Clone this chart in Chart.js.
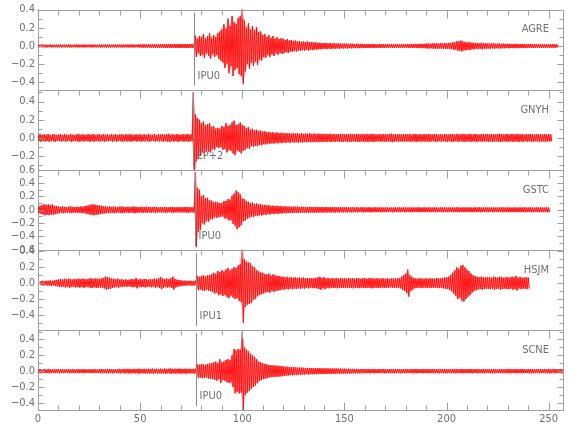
<!DOCTYPE html>
<html>
<head>
<meta charset="utf-8">
<script src="https://cdn.jsdelivr.net/npm/chart.js@4.4.0/dist/chart.umd.min.js"></script>
<style>
html,body{margin:0;padding:0;background:#fff;}
</style>
</head>
<body>
<canvas id="chart" width="580" height="440"></canvas>
<script>
// stations, top to bottom
const stations = ['AGRE','GNYH','GSTC','HSJM','SCNE'];
const picks = ['IPU0','EP+2','IPU0','IPU1','IPU0'];
const pickTimes = [76.2,75.8,76.9,77.5,77.5];
const yMin = [-0.48,-0.35,-0.6,-0.59,-0.49];
const yMax = [0.4,0.53,0.6,0.42,0.52];
const xLabels = [0,50,100,150,200,250];

// trace envelopes, half peak-to-peak, one value per second from t=0
const agre = [
.015,.013,.016,.014,.015,.012,.016,.014,.013,.015,
.014,.016,.013,.015,.014,.016,.015,.013,.014,.016,
.015,.014,.016,.015,.013,.015,.016,.014,.015,.013,
.016,.015,.014,.017,.015,.016,.014,.015,.016,.014,
.015,.016,.015,.014,.016,.015,.017,.015,.014,.016,
.016,.018,.017,.016,.018,.017,.019,.018,.017,.018,
.02,.019,.021,.02,.022,.02,.019,.021,.02,.022,
.021,.02,.022,.021,.02,.021,.02,.12,.08,.11,
.1,.13,.08,.11,.14,.09,.12,.1,.14,.16,
.18,.24,.19,.3,.22,.33,.26,.24,.31,.33,
.42,.28,.2,.25,.18,.22,.17,.21,.15,.16,
.12,.13,.1,.12,.09,.11,.08,.095,.075,.085,
.08,.065,.075,.06,.065,.055,.06,.05,.055,.045,
.05,.042,.05,.04,.045,.038,.042,.033,.037,.032,
.03,.034,.028,.032,.027,.031,.026,.029,.025,.028,
.025,.027,.023,.026,.024,.022,.025,.022,.024,.021,
.022,.02,.023,.019,.022,.02,.018,.022,.019,.021,
.018,.02,.017,.021,.018,.019,.02,.017,.02,.018,
.018,.021,.018,.022,.019,.023,.02,.024,.021,.025,
.026,.028,.024,.03,.027,.031,.026,.03,.027,.032,
.029,.034,.033,.042,.038,.052,.05,.06,.048,.046,
.038,.045,.036,.037,.029,.034,.028,.036,.028,.031,
.027,.031,.025,.029,.024,.027,.026,.024,.026,.023,
.025,.022,.024,.021,.024,.02,.022,.021,.023,.019,
.021,.02,.022,.018,.021,.019,.02,.018,.02,.017,
.019,.018,.02,.017,.019
];
const gnyh = [
.035,.042,.031,.04,.034,.043,.032,.038,.041,.033,
.036,.04,.032,.043,.035,.034,.041,.036,.032,.039,
.042,.034,.039,.033,.038,.041,.034,.044,.033,.037,
.04,.033,.042,.035,.038,.032,.04,.035,.041,.033,
.037,.041,.033,.04,.035,.043,.036,.033,.04,.035,
.041,.034,.039,.033,.043,.036,.034,.041,.033,.039,
.036,.043,.034,.04,.045,.035,.041,.034,.043,.037,
.035,.041,.036,.043,.037,.036,.5,.26,.22,.2,
.16,.18,.14,.15,.16,.12,.13,.1,.11,.1,
.13,.12,.16,.13,.14,.17,.19,.14,.15,.17,
.14,.13,.11,.12,.09,.1,.085,.09,.075,.08,
.068,.072,.062,.065,.058,.063,.054,.06,.052,.058,
.05,.054,.048,.053,.046,.052,.047,.052,.045,.05,
.044,.048,.045,.049,.043,.048,.042,.047,.043,.045,
.041,.044,.04,.045,.039,.044,.038,.043,.04,.045,
.038,.043,.039,.045,.038,.042,.04,.044,.037,.043,
.039,.044,.038,.042,.045,.039,.037,.043,.038,.042,
.04,.038,.043,.047,.039,.037,.043,.038,.042,.037,
.041,.038,.043,.036,.042,.044,.038,.042,.036,.043,
.038,.043,.039,.036,.044,.04,.037,.043,.036,.041,
.043,.037,.042,.044,.036,.043,.039,.038,.045,.04,
.037,.043,.041,.038,.044,.039,.036,.043,.038,.041,
.044,.038,.043,.039,.037,.043,.045,.039,.038,.043,
.041,.037,.043,.038,.041,.044,.038,.043,.036,.042,
.038,.043,.04,.036,.043,.038,.041,.037,.043,.038,
.04,.038
];
const gstc = [
.05,.062,.07,.083,.072,.08,.068,.078,.06,.058,
.05,.043,.052,.044,.04,.047,.05,.043,.041,.046,
.043,.052,.045,.057,.062,.07,.078,.082,.074,.071,
.063,.062,.053,.052,.044,.051,.043,.052,.044,.041,
.046,.052,.043,.04,.047,.039,.046,.051,.043,.04,
.041,.046,.039,.046,.04,.044,.038,.046,.04,.037,
.042,.037,.043,.039,.037,.042,.043,.036,.041,.037,
.041,.037,.042,.043,.039,.037,.04,.56,.33,.3,
.2,.22,.17,.18,.14,.14,.11,.12,.11,.1,
.1,.13,.13,.16,.15,.21,.24,.29,.26,.23,
.17,.16,.13,.12,.1,.11,.085,.095,.08,.085,
.07,.075,.065,.07,.058,.063,.055,.06,.052,.056,
.048,.052,.046,.051,.045,.048,.046,.048,.043,.046,
.043,.045,.042,.044,.041,.043,.04,.042,.039,.042,
.038,.041,.038,.04,.037,.041,.036,.039,.037,.04,
.036,.039,.035,.038,.037,.035,.038,.034,.036,.038,
.035,.034,.038,.035,.034,.037,.033,.036,.035,.034,
.036,.034,.033,.036,.035,.033,.036,.035,.033,.036,
.035,.033,.036,.035,.034,.033,.037,.034,.033,.036,
.033,.036,.035,.033,.036,.035,.033,.036,.035,.033,
.036,.035,.033,.036,.033,.037,.034,.033,.036,.034,
.033,.036,.035,.033,.036,.033,.037,.034,.033,.036,
.035,.033,.036,.035,.033,.036,.033,.037,.034,.033,
.036,.035,.033,.036,.035,.033,.036,.033,.037,.034,
.033,.036,.035,.033,.036,.035,.033,.036,.033,.037,
.034
];
const hsjm = [
null,.025,.03,.024,.029,.03,.033,.028,.036,.04,
.046,.05,.045,.055,.048,.057,.049,.046,.054,.049,
.057,.049,.06,.05,.048,.057,.062,.053,.06,.058,
.053,.062,.066,.082,.075,.07,.058,.056,.048,.057,
.044,.05,.041,.047,.039,.046,.052,.046,.066,.044,
.052,.046,.054,.049,.044,.052,.047,.057,.049,.062,
.076,.058,.049,.057,.048,.062,.081,.054,.044,.04,
.035,.03,.032,.027,.031,.029,.028,.03,.09,.08,
.092,.1,.083,.097,.1,.113,.13,.118,.153,.14,
.162,.148,.172,.19,.158,.182,.2,.188,.224,.24,
.5,.3,.27,.26,.25,.21,.2,.165,.15,.135,
.13,.115,.11,.12,.095,.11,.098,.092,.09,.08,
.082,.072,.08,.068,.076,.068,.073,.066,.071,.063,
.069,.06,.066,.058,.064,.059,.066,.072,.082,.063,
.076,.058,.066,.056,.063,.058,.066,.056,.061,.06,
.062,.056,.063,.058,.066,.056,.061,.063,.056,.061,
.063,.056,.061,.066,.058,.056,.063,.058,.056,.061,
.056,.061,.053,.058,.061,.056,.063,.066,.082,.1,
.12,.17,.1,.08,.065,.06,.056,.063,.058,.056,
.061,.056,.063,.058,.056,.061,.063,.058,.066,.07,
.075,.082,.1,.13,.16,.2,.18,.22,.23,.2,
.17,.15,.12,.1,.09,.08,.074,.082,.073,.07,
.073,.076,.068,.082,.074,.069,.082,.074,.068,.073,
.076,.068,.082,.074,.092,.068,.076,.07,.069,.076,
.07
];
const scne = [
.022,.026,.019,.025,.021,.026,.023,.02,.025,.021,
.026,.021,.025,.02,.023,.026,.021,.025,.02,.023,
.025,.021,.026,.023,.02,.025,.021,.026,.023,.021,
.025,.027,.022,.026,.028,.023,.027,.025,.022,.027,
.028,.024,.029,.025,.03,.027,.024,.029,.025,.031,
.028,.025,.03,.026,.031,.027,.032,.026,.03,.027,
.031,.027,.032,.028,.031,.033,.027,.031,.028,.032,
.03,.027,.032,.028,.031,.027,.03,.029,.085,.08,
.09,.083,.08,.092,.095,.1,.11,.12,.1,.15,
.11,.12,.14,.15,.14,.2,.28,.26,.28,.27,
.5,.3,.27,.25,.22,.2,.18,.15,.12,.11,
.1,.092,.086,.078,.076,.072,.07,.07,.066,.065,
.06,.056,.056,.05,.052,.048,.049,.045,.046,.043,
.043,.039,.042,.038,.039,.038,.038,.036,.037,.035,
.036,.034,.035,.033,.034,.032,.033,.031,.032,.03,
.031,.029,.03,.028,.029,.027,.028,.026,.028,.025,
.027,.024,.028,.023,.027,.025,.023,.027,.024,.028,
.025,.023,.027,.024,.028,.023,.025,.027,.023,.025,
.027,.024,.023,.027,.025,.028,.024,.023,.027,.025,
.023,.027,.024,.028,.023,.025,.027,.023,.025,.027,
.025,.023,.027,.024,.028,.025,.023,.027,.025,.023,
.027,.024,.028,.023,.025,.027,.023,.025,.027,.024,
.023,.027,.025,.028,.024,.023,.027,.025,.023,.027,
.025,.028,.023,.025,.027,.023,.025,.027,.024,.023,
.027,.025,.028,.024,.023,.027,.025,.023,.027,.025,
.028,.023,.025,.027,.023,.025,.027,.025
];
const traces = [agre, gnyh, gstc, hsjm, scne];

const gray = '#6f6f6f';
const lineGray = '#a0a0a0';
const fontFamily = '"Liberation Sans Narrow","DejaVu Sans Condensed","Liberation Sans",sans-serif';
Chart.defaults.font.family = fontFamily;
Chart.defaults.color = gray;

// envelope -> up/down wiggle, two points per second
function wiggle(amp){
    const pts = [];
    amp.forEach((a,t)=>{
        if(a === null){ pts.push({x:t, y:null}); return; }
        pts.push({x:t, y:a});
        pts.push({x:t+0.5, y:-a});
    });
    return pts;
}
const upper = amp => amp.map((a,t)=>({x:t, y:a}));
const lower = amp => amp.map((a,t)=>({x:t+0.5, y:a === null ? null : -a}));

const fmt = v => {
    const r = Math.round(v*10);
    if(r % 2 !== 0) return '';
    return (r/10).toFixed(1).replace('-', '\u2212');
};

const scales = {
    x:{
        type:'linear', min:0, max:257,
        afterFit: s => { s.height = 30; },
        grid:{display:false, drawTicks:false},
        border:{display:true, color:lineGray},
        ticks:{
            stepSize:10, autoSkip:false, includeBounds:false, maxRotation:0, padding:3,
            font:{size:11},
            callback: v => xLabels.includes(v) ? String(v) : ''
        }
    }
};
// bottom panel first, so the stack lays AGRE on top
for(let i = stations.length-1; i >= 0; i--){
    scales['y'+i] = {
        type:'linear', position:'left', stack:'traces', stackWeight:1, weight:5-i,
        min:yMin[i], max:yMax[i],
        afterFit: s => { s.width = 38; },
        grid:{display:false, drawTicks:false},
        border:{display:true, color:lineGray},
        ticks:{
            stepSize:0.1, autoSkip:false, includeBounds:false, padding:3,
            font:{size:11},
            callback: v => fmt(v)
        }
    };
}

// per station: envelope top, envelope bottom filled up to it, then the wiggle on top
const datasets = [];
traces.forEach((tr,i)=>{
    const common = {xAxisID:'x', yAxisID:'y'+i, pointRadius:0, tension:0, spanGaps:false};
    datasets.push({...common, label:stations[i]+' top', data:upper(tr), borderWidth:0, fill:false});
    datasets.push({...common, label:stations[i]+' bottom', data:lower(tr), borderWidth:0,
        fill:'-1', backgroundColor:'rgba(255,40,40,0.45)'});
    datasets.push({...common, label:stations[i], data:wiggle(tr),
        borderColor:'#ff0000', borderWidth:1, borderJoinStyle:'bevel', fill:false});
});

// panel frames, inward ticks, pick markers and station names
const frame = {
    id:'frame',
    afterDraw(chart){
        const ctx = chart.ctx;
        const x = chart.scales.x;
        const L = Math.round(x.left)+0.5, R = Math.round(x.right)+0.5;
        ctx.save();
        ctx.lineWidth = 1;
        stations.forEach((name,i)=>{
            const y = chart.scales['y'+i];
            const T = Math.round(y.top)+0.5, B = Math.round(y.bottom)+0.5;
            ctx.strokeStyle = lineGray;
            ctx.beginPath();
            ctx.moveTo(L,T); ctx.lineTo(R,T);
            ctx.moveTo(R,T); ctx.lineTo(R,B);
            y.ticks.forEach(t=>{
                const py = Math.round(y.getPixelForValue(t.value))+0.5;
                const len = fmt(t.value) ? 6 : 4;
                ctx.moveTo(L,py); ctx.lineTo(L+len,py);
                ctx.moveTo(R,py); ctx.lineTo(R-len,py);
            });
            x.ticks.forEach(t=>{
                const px = Math.round(x.getPixelForValue(t.value))+0.5;
                const len = xLabels.includes(t.value) ? 8 : 5;
                ctx.moveTo(px,T); ctx.lineTo(px,T+len);
                if(i === stations.length-1){ ctx.moveTo(px,B); ctx.lineTo(px,B-len); }
            });
            ctx.stroke();

            // pick line
            const pp = Math.round(x.getPixelForValue(pickTimes[i]))+0.5;
            ctx.strokeStyle = '#8a8a8a';
            ctx.beginPath();
            ctx.moveTo(pp, y.top+3); ctx.lineTo(pp, y.bottom-4);
            ctx.stroke();

            ctx.fillStyle = gray;
            ctx.font = '11px ' + fontFamily;
            ctx.textBaseline = 'middle';
            ctx.textAlign = 'left';
            ctx.fillText(picks[i], pp+3, y.bottom-14);
            ctx.textAlign = 'right';
            ctx.fillText(name, x.right-14, y.top+20);
        });
        ctx.restore();
    }
};

new Chart(document.getElementById('chart'),{
    type:'line',
    data:{datasets},
    options:{
        responsive:false,
        animation:false,
        layout:{padding:{top:5, right:17, left:0, bottom:0}},
        plugins:{legend:{display:false}, tooltip:{enabled:false}},
        scales
    },
    plugins:[frame]
});
</script>
</body>
</html>
